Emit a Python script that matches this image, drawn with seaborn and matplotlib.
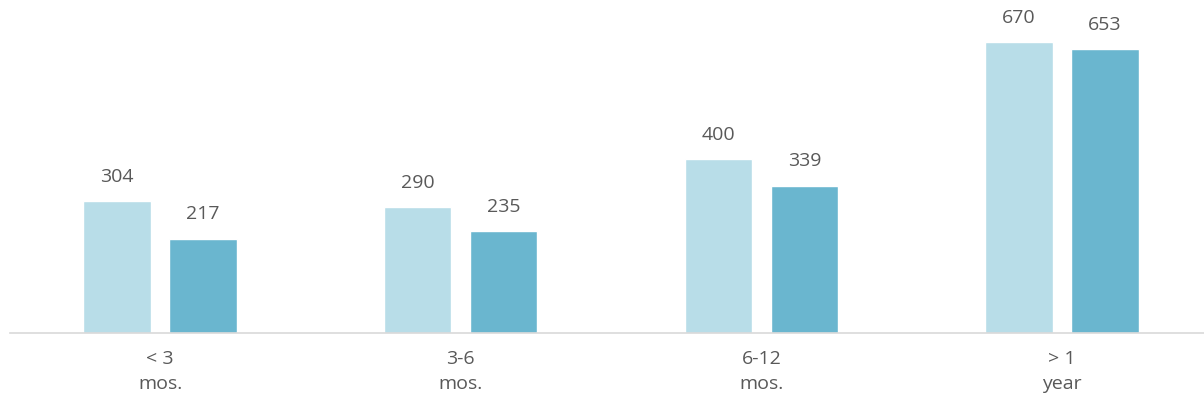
import matplotlib
matplotlib.use("Agg")
import matplotlib.pyplot as plt
import seaborn as sns
import pandas as pd

categories = ["< 3\nmos.", "3-6\nmos.", "6-12\nmos.", "> 1\nyear"]
series_a = [304, 290, 400, 670]
series_b = [217, 235, 339, 653]
series_names = ["Series A", "Series B"]
colors = ["#B8DDE8", "#6AB6CF"]

df = pd.DataFrame({
    "category": categories * 2,
    "value": series_a + series_b,
    "series": [series_names[0]] * 4 + [series_names[1]] * 4,
})

sns.set_theme(style="white")
plt.rcParams["font.family"] = ["Open Sans", "DejaVu Sans"]

W, H = 1204, 404
fig = plt.figure(figsize=(W / 100, H / 100), dpi=100)
left_px, right_px = 9.7, 1212.3
base_px = 333
px_per_unit = 291 / 670
ymax = 700
top_px = base_px - ymax * px_per_unit
ax = fig.add_axes([left_px / W, (H - base_px) / H, (right_px - left_px) / W, (base_px - top_px) / H])

sns.barplot(data=df, x="category", y="value", hue="series", palette=colors,
            width=0.572, gap=0.22, ax=ax, legend=False, saturation=1,
            order=categories, hue_order=series_names)

ax.set_xlim(-0.5, 3.5)
ax.set_ylim(0, ymax)
for c in ax.containers:
    ax.bar_label(c, labels=[f"{int(v)}" for v in c.datavalues], padding=11,
                 fontsize=14, color="#595959", clip_on=False)

for s in ["top", "right", "left"]:
    ax.spines[s].set_visible(False)
ax.spines["bottom"].set_color("#D9D9D9")
ax.spines["bottom"].set_linewidth(1.2)
ax.set_yticks([])
ax.set_xlabel("")
ax.set_ylabel("")
ax.tick_params(axis="x", length=0, pad=12, labelsize=14, labelcolor="#595959")
for t in ax.get_xticklabels():
    t.set_linespacing(1.5)

fig.savefig("out.png", dpi=100)
